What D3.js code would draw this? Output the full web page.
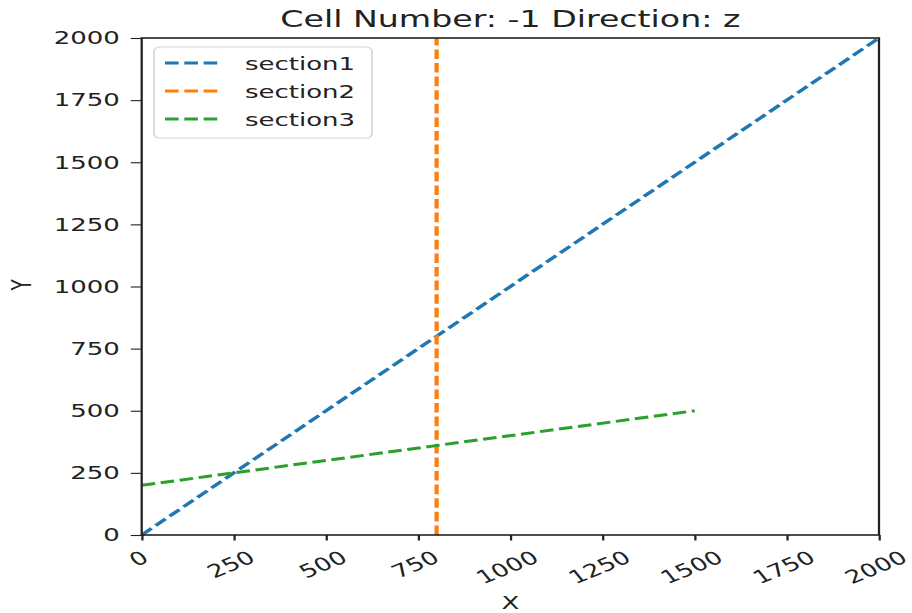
<!DOCTYPE html>
<html>
<head>
<meta charset="utf-8">
<script src="https://cdn.jsdelivr.net/npm/d3@7"></script>
<style>
  html, body { margin: 0; padding: 0; background: #fff; }
  svg { display: block; }
  text { font-family: "DejaVu Sans", sans-serif; fill: #222; }
</style>
</head>
<body>
<svg id="chart" width="912" height="613"></svg>
<script>
// Series data
const seriesNames = ["section1", "section2", "section3"];
const seriesColors = ["#1f77b4", "#ff7f0e", "#2ca02c"];
const section1X = [0, 2000];
const section1Y = [0, 2000];
const section2X = [800, 800];
const section2Y = [0, 2000];
const section3X = [0, 1500];
const section3Y = [200, 500];

// Axes
const xTicks = [0, 250, 500, 750, 1000, 1250, 1500, 1750, 2000];
const yTicks = [0, 250, 500, 750, 1000, 1250, 1500, 1750, 2000];
const titleText = "Cell Number: -1 Direction: z";
const xLabel = "X";
const yLabel = "Y";

const SX = 1.42;              // horizontal stretch of the whole figure
const plot = { left: 141.7 / SX, right: 879 / SX, top: 38, bottom: 535 };
const tickFont = 18.3, titleFont = 23.4;
const lw = 3.0, dash = "9.6,4.0";
const fmt = d3.format("d");

const svg = d3.select("#chart");
const g = svg.append("g").attr("transform", `scale(${SX},1)`);

const x = d3.scaleLinear().domain([0, 2000]).range([plot.left, plot.right]);
const y = d3.scaleLinear().domain([0, 2000]).range([plot.bottom, plot.top]);

// clip region for data lines
g.append("clipPath").attr("id", "plotclip")
  .append("rect")
  .attr("x", plot.left).attr("y", plot.top - 2)
  .attr("width", plot.right - plot.left).attr("height", plot.bottom - plot.top + 4);

const series = [
  { xs: section1X, ys: section1Y },
  { xs: section2X, ys: section2Y },
  { xs: section3X, ys: section3Y }
];

const line = d3.line().x(d => x(d[0])).y(d => y(d[1]));
const lines = g.append("g").attr("clip-path", "url(#plotclip)");
series.forEach((s, i) => {
  const pts = s.xs.map((v, k) => [v, s.ys[k]]);
  lines.append("path")
    .attr("d", line(pts))
    .attr("fill", "none")
    .attr("stroke", seriesColors[i])
    .attr("stroke-width", lw)
    .attr("stroke-dasharray", dash);
});

// Y axis
const yAxis = d3.axisLeft(y).tickValues(yTicks).tickFormat(fmt)
  .tickSize(7.7).tickSizeOuter(0).tickPadding(7.7);
const yg = g.append("g").attr("transform", `translate(${plot.left},0)`).call(yAxis);
yg.select(".domain").remove();
yg.selectAll(".tick line").attr("stroke", "#222").attr("stroke-width", 1.1);
yg.selectAll(".tick text")
  .style("font-family", "'DejaVu Sans', sans-serif")
  .style("font-size", tickFont + "px")
  .attr("fill", "#222");

// X axis
const xAxis = d3.axisBottom(x).tickValues(xTicks).tickSize(5.5).tickSizeOuter(0).tickFormat("");
const xg = g.append("g").attr("transform", `translate(0,${plot.bottom})`).call(xAxis);
xg.select(".domain").remove();
xg.selectAll(".tick line").attr("stroke", "#222").attr("stroke-width", 1.6);

// rotated x tick labels, centred under each tick
const ang = 30 * Math.PI / 180;
xTicks.forEach(v => {
  const t = g.append("text")
    .attr("text-anchor", "middle")
    .attr("dominant-baseline", "central")
    .style("font-size", tickFont + "px")
    .text(fmt(v));
  const w = t.node().getComputedTextLength();
  const bh = w * Math.sin(ang) + tickFont * 0.95 * Math.cos(ang);
  const cy = 548 + bh / 2;
  t.attr("transform", `translate(${x(v) - 2.2},${cy}) rotate(-30)`);
});

// spines
g.append("rect")
  .attr("x", plot.left).attr("y", plot.top)
  .attr("width", plot.right - plot.left).attr("height", plot.bottom - plot.top)
  .attr("fill", "none").attr("stroke", "#222").attr("stroke-width", 1.6);

// title and axis labels
g.append("text")
  .attr("x", (plot.left + plot.right) / 2).attr("y", 27)
  .attr("text-anchor", "middle")
  .style("font-size", titleFont + "px")
  .text(titleText);

g.append("text")
  .attr("x", (plot.left + plot.right) / 2).attr("y", 609)
  .attr("text-anchor", "middle")
  .style("font-size", tickFont + "px")
  .text(xLabel);

g.append("text")
  .attr("transform", `translate(${22 / SX},${285}) rotate(-90)`)
  .attr("text-anchor", "middle")
  .attr("dominant-baseline", "central")
  .style("font-size", tickFont + "px")
  .text(yLabel);

// legend
const lg = g.append("g");
lg.append("rect")
  .attr("x", 154 / SX).attr("y", 47)
  .attr("width", (372 - 154) / SX).attr("height", 91)
  .attr("rx", 3.5).attr("ry", 5)
  .attr("fill", "#fff").attr("fill-opacity", 0.8)
  .attr("stroke", "#d6d6d6").attr("stroke-width", 1.2);
const rowY = [63, 91, 119];
seriesNames.forEach((name, i) => {
  lg.append("line")
    .attr("x1", 165 / SX).attr("x2", 222 / SX)
    .attr("y1", rowY[i]).attr("y2", rowY[i])
    .attr("stroke", seriesColors[i])
    .attr("stroke-width", lw)
    .attr("stroke-dasharray", dash);
  lg.append("text")
    .attr("x", 245 / SX).attr("y", rowY[i])
    .attr("dominant-baseline", "central")
    .style("font-size", tickFont + "px")
    .text(name);
});
</script>
</body>
</html>
